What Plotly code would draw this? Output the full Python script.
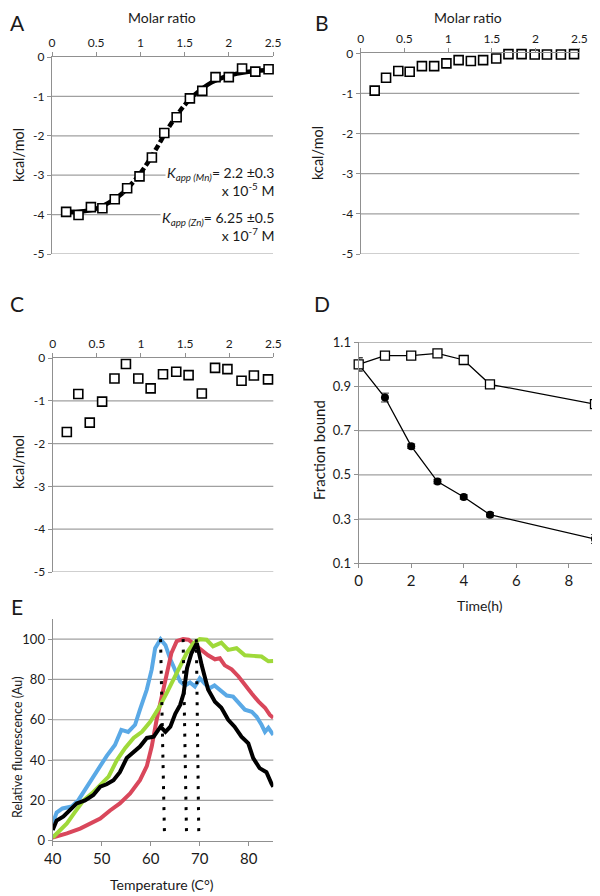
import plotly.graph_objects as go

# ---------------- Panel A ----------------
a_x = [0.16, 0.30, 0.44, 0.57, 0.71, 0.85, 0.99, 1.13, 1.27, 1.41, 1.56, 1.70, 1.85, 2.00, 2.15, 2.30, 2.45]
a_y = [-3.93, -4.01, -3.81, -3.84, -3.61, -3.33, -3.03, -2.55, -1.93, -1.53, -1.05, -0.86, -0.51, -0.51, -0.29, -0.37, -0.31]
a_fit_x = [0.16, 0.3, 0.5, 0.7, 0.8, 0.9, 1.0, 1.1, 1.2, 1.3, 1.4, 1.5, 1.6, 1.7, 1.8, 1.9, 2.0, 2.2, 2.45]
a_fit_y = [-3.92, -3.93, -3.85, -3.62, -3.45, -3.22, -2.95, -2.62, -2.25, -1.86, -1.52, -1.22, -0.98, -0.80, -0.65, -0.55, -0.47, -0.38, -0.33]

# ---------------- Panel B ----------------
b_x = [0.16, 0.29, 0.43, 0.56, 0.70, 0.84, 0.98, 1.12, 1.26, 1.40, 1.55, 1.69, 1.84, 1.99, 2.13, 2.29, 2.44]
b_y = [-0.93, -0.61, -0.44, -0.46, -0.32, -0.32, -0.25, -0.17, -0.19, -0.17, -0.13, -0.02, -0.02, -0.03, -0.03, -0.03, -0.02]

# ---------------- Panel C ----------------
c_x = [0.16, 0.29, 0.42, 0.56, 0.70, 0.83, 0.97, 1.11, 1.25, 1.40, 1.54, 1.69, 1.84, 1.98, 2.14, 2.28, 2.44]
c_y = [-1.73, -0.84, -1.51, -1.02, -0.48, -0.14, -0.48, -0.71, -0.38, -0.32, -0.40, -0.83, -0.23, -0.26, -0.53, -0.41, -0.50]

# shared tick labels
ratio_ticks = [0, 0.5, 1, 1.5, 2, 2.5]
ratio_labels = ["0", "0.5", "1", "1.5", "2", "2.5"]
kcal_ticks = [0, -1, -2, -3, -4, -5]
kcal_labels = ["0", "-1", "-2", "-3", "-4", "-5"]

# ---------------- Panel D ----------------
d_t = [0, 1, 2, 3, 4, 5, 9]
d_open = [1.00, 1.04, 1.04, 1.05, 1.02, 0.91, 0.82]
d_open_err = [0.03, 0.005, 0.005, 0.005, 0.005, 0.005, 0.005]
d_filled = [1.00, 0.85, 0.63, 0.47, 0.40, 0.32, 0.21]
d_filled_err = [0.03, 0.02, 0.01, 0.01, 0.01, 0.01, 0.02]
d_xticks = [0, 2, 4, 6, 8]
d_yticks = [0.1, 0.3, 0.5, 0.7, 0.9, 1.1]
d_ylabels = ["0.1", "0.3", "0.5", "0.7", "0.9", "1.1"]

# ---------------- Panel E ----------------
e_blue_t = [40, 40.8, 42, 43.9, 45.2, 47, 49, 51, 52.7, 54, 55.4, 56.8, 57.8, 59.2, 60.2, 60.9, 62, 63, 64, 65, 66, 67, 68, 69, 70, 71, 72, 73, 74, 75.5, 76.8, 78.2, 79.2, 80.6, 81.6, 82.6, 83.3, 84, 85]
e_blue = [8.6, 14, 16, 17, 20, 27, 34, 42, 47.5, 55, 54, 57.5, 65, 75, 85, 95.5, 100, 97, 90, 85, 79, 77, 78.5, 76.5, 80.6, 78, 75.6, 77, 75, 72, 71.5, 68, 65, 64, 61.5, 57.5, 54, 56, 52.5]
e_red_t = [40, 42.9, 45.6, 47.6, 49.7, 51.7, 53.7, 55.8, 57.8, 59.2, 60.2, 61.2, 62.2, 63.2, 64.2, 65.3, 66.6, 67.7, 69, 70.4, 71.7, 73.1, 74.1, 75.1, 76.5, 77.9, 79.2, 80.6, 82, 83.3, 84.3, 85]
e_red = [1.6, 3.6, 6, 8.6, 11, 15, 18.5, 23.5, 30, 37, 46.7, 60, 71.5, 83, 93, 99, 100, 99.7, 97, 94.7, 92, 90, 90.5, 87, 85, 81.5, 77, 73, 69, 66, 62.4, 61]
e_green_t = [40, 41.5, 42.9, 44.6, 46.3, 48, 49.7, 51.4, 53.1, 54.8, 56.5, 58.2, 59.9, 61.6, 63.2, 64.6, 65.9, 67.3, 68.7, 70, 71.4, 72.7, 74.4, 75.8, 77.5, 79.2, 80.9, 82.6, 84, 85]
e_green = [1.6, 5.3, 8.6, 14.4, 20, 23.5, 27.6, 31.8, 40, 46, 51, 54, 59, 65.7, 73, 80, 87, 93, 98, 100, 99.7, 96.4, 98.3, 94.7, 95.5, 92, 91.7, 91.4, 89, 89.2]
e_black_t = [40, 40.8, 42.2, 43.5, 44.9, 46.6, 48.3, 49.7, 51, 52.4, 53.7, 55.1, 56.5, 57.8, 59.2, 60.6, 62, 63, 64, 65, 66, 66.7, 67.4, 68.3, 69.4, 70.4, 71.7, 73.1, 74.4, 75.8, 77.1, 78.5, 79.9, 80.9, 82.2, 83.6, 84.6, 85]
e_black = [5.3, 10, 12, 15, 18.5, 20, 22.7, 26.8, 28, 30, 34, 41, 44, 46.7, 51, 51.6, 56.6, 54, 56.6, 63, 67.4, 73, 85.6, 93, 98, 87, 75, 69, 66, 60, 56.6, 51.6, 48.3, 41, 36, 34, 28.5, 26.8]
e_drop_top = [62.0, 66.6, 69.3]
e_drop_bottom = [62.8, 67.3, 69.8]
e_drop_y = [100, 3]
e_xticks = [40, 50, 60, 70, 80]
e_yticks = [0, 20, 40, 60, 80, 100]

# page body has an 8px margin; the figure is sized so it ends at the window edges
OFF = 8
W, H = 600 - OFF, 896 - OFF
FONT = "Lato"
GRID = "#a0a0a0"
AXIS = "#909090"
TXT = "#1a1a1a"


def px(x):
    return (x - OFF) / W


def py(y):
    return 1 - (y - OFF) / H


fig = go.Figure()

sq = dict(symbol="square", size=9, color="white", line=dict(color="black", width=1.6))

# Panel A traces
solid1 = [(x, y) for x, y in zip(a_fit_x, a_fit_y) if x <= 0.8]
dashed = [(x, y) for x, y in zip(a_fit_x, a_fit_y) if 0.8 <= x <= 1.6]
solid2 = [(x, y) for x, y in zip(a_fit_x, a_fit_y) if x >= 1.6]
for seg, dash in [(solid1, "solid"), (dashed, "6px,3px"), (solid2, "solid")]:
    fig.add_trace(go.Scatter(x=[p[0] for p in seg], y=[p[1] for p in seg], mode="lines",
                             line=dict(color="black", width=4.5, dash=dash, shape="spline"),
                             xaxis="x", yaxis="y", showlegend=False, hoverinfo="skip"))
fig.add_trace(go.Scatter(x=a_x, y=a_y, mode="markers", marker=sq, xaxis="x", yaxis="y",
                         showlegend=False, cliponaxis=False))

# Panel B
fig.add_trace(go.Scatter(x=b_x, y=b_y, mode="markers", marker=sq, xaxis="x2", yaxis="y2",
                         showlegend=False, cliponaxis=False))

# Panel C
fig.add_trace(go.Scatter(x=c_x, y=c_y, mode="markers", marker=sq, xaxis="x3", yaxis="y3",
                         showlegend=False, cliponaxis=False))

# Panel D
fig.add_trace(go.Scatter(x=d_t, y=d_filled, mode="lines+markers",
                         line=dict(color="black", width=1.3),
                         marker=dict(symbol="circle", size=8, color="black"),
                         error_y=dict(type="data", array=d_filled_err, color="#333", thickness=1, width=4),
                         xaxis="x4", yaxis="y4", showlegend=False, cliponaxis=False))
fig.add_trace(go.Scatter(x=d_t, y=d_open, mode="lines+markers",
                         line=dict(color="black", width=1.3),
                         marker=dict(symbol="square", size=9, color="white", line=dict(color="black", width=1.3)),
                         error_y=dict(type="data", array=d_open_err, color="#333", thickness=1, width=4),
                         xaxis="x4", yaxis="y4", showlegend=False, cliponaxis=False))

# Panel E
for t, v, col in [(e_blue_t, e_blue, "#5aa9e6"), (e_red_t, e_red, "#d9475b"),
                  (e_green_t, e_green, "#9fd93a"), (e_black_t, e_black, "black")]:
    fig.add_trace(go.Scatter(x=t, y=v, mode="lines", line=dict(color=col, width=4),
                             xaxis="x5", yaxis="y5", showlegend=False))
for xt, xb in zip(e_drop_top, e_drop_bottom):
    fig.add_trace(go.Scatter(x=[xt, xb], y=e_drop_y, mode="lines",
                             line=dict(color="black", width=3, dash="3px,7.5px"),
                             xaxis="x5", yaxis="y5", showlegend=False))

tickfont = dict(family=FONT, size=12, color=TXT)
bigtick = dict(family=FONT, size=15, color=TXT)

common_y = dict(showline=True, linecolor=AXIS, linewidth=1.3, ticks="outside", ticklen=4,
                tickcolor=AXIS, showgrid=False, zeroline=False,
                tickfont=tickfont, automargin=False)
common_x = dict(showline=True, linecolor=AXIS, linewidth=1.3, ticks="outside", ticklen=4,
                tickcolor=AXIS, showgrid=False, zeroline=False, tickfont=tickfont, automargin=False)

fig.update_layout(
    template="none",
    width=W, height=H, margin=dict(l=0, r=0, t=0, b=0),
    paper_bgcolor="white", plot_bgcolor="white",
    font=dict(family=FONT, color=TXT),
    xaxis=dict(common_x, domain=[px(52), px(273)], anchor="y", side="top", range=[0, 2.5],
               tickvals=ratio_ticks, ticktext=ratio_labels),
    yaxis=dict(common_y, domain=[py(254), py(57)], anchor="x", range=[-5, 0],
               tickvals=kcal_ticks, ticktext=kcal_labels),
    xaxis2=dict(common_x, domain=[px(360.7), px(579.3)], anchor="y2", side="top", range=[0, 2.5],
                tickvals=ratio_ticks, ticktext=ratio_labels),
    yaxis2=dict(common_y, domain=[py(254), py(53.3)], anchor="x2", range=[-5, 0],
                tickvals=kcal_ticks, ticktext=kcal_labels),
    xaxis3=dict(common_x, domain=[px(52.7), px(273.3)], anchor="y3", side="top", range=[0, 2.5],
                tickvals=ratio_ticks, ticktext=ratio_labels),
    yaxis3=dict(common_y, domain=[py(572), py(358)], anchor="x3", range=[-5, 0],
                tickvals=kcal_ticks, ticktext=kcal_labels),
    xaxis4=dict(common_x, domain=[px(358.7), px(595)], anchor="y4", range=[0, 9],
                tickvals=d_xticks, tickfont=bigtick),
    yaxis4=dict(common_y, domain=[py(563.3), py(342.3)], anchor="x4", range=[0.1, 1.1],
                tickvals=d_yticks, ticktext=d_ylabels, tickfont=dict(tickfont, size=13)),
    xaxis5=dict(common_x, domain=[px(52.7), px(273.3)], anchor="y5", range=[40, 85],
                tickvals=e_xticks, tickfont=bigtick),
    yaxis5=dict(common_y, domain=[py(840.7), py(619)], anchor="x5", range=[0, 110],
                tickvals=e_yticks, tickfont=dict(tickfont, size=13)),
)

# horizontal gridlines, placed on each panel's own y scale
shapes = []
for yref, vals in [("y", kcal_ticks[1:]), ("y2", kcal_ticks[1:]), ("y3", kcal_ticks[1:]),
                   ("y4", d_yticks[1:]), ("y5", e_yticks[1:])]:
    xdom = yref.replace("y", "x") + " domain"
    for v in vals:
        shapes.append(dict(type="line", xref=xdom, x0=0, x1=1, yref=yref, y0=v, y1=v,
                           layer="below", line=dict(color=GRID, width=1.2)))
fig.update_layout(shapes=shapes)

ann = []


def text(x, y, s, size, angle=0, xanchor="center", yanchor="middle", bg=None, pad=1):
    d = dict(x=px(x), y=py(y), xref="paper", yref="paper", text=s, showarrow=False,
             font=dict(family=FONT, size=size, color=TXT), textangle=angle,
             xanchor=xanchor, yanchor=yanchor, align="right", borderpad=pad)
    if bg:
        d["bgcolor"] = bg
    ann.append(d)


# panel letters
text(17, OFF + 0.5, "A", 21, yanchor="top", pad=0)
text(322, OFF + 0.5, "B", 21, yanchor="top", pad=0)
text(17, 304, "C", 21)
text(322, 303, "D", 21)
text(17, 606, "E", 21)

# titles
text(162, 18, "Molar ratio", 14)
text(468, 18, "Molar ratio", 14)
text(OFF + 0.5, 155, "kcal/mol", 14.5, angle=-90, xanchor="left", pad=0)
text(318, 153, "kcal/mol", 14.5, angle=-90)
text(OFF + 0.5, 462, "kcal/mol", 14.5, angle=-90, xanchor="left", pad=0)
text(319, 450, "Fraction bound", 15, angle=-90)
text(480, 605, "Time(h)", 14)
text(OFF + 0.5, 747, "Relative fluorescence (Au)", 12.5, angle=-90, xanchor="left", pad=0)
text(162, 884, "Temperature (C°)", 14)

# K app boxes
text(276, 181, "<i>K<sub>app (Mn)</sub></i>= 2.2 ±0.3<br>x 10<sup>-5</sup> M", 14,
     xanchor="right", bg="white")
text(276, 226, "<i>K<sub>app (Zn)</sub></i>= 6.25 ±0.5<br>x 10<sup>-7</sup> M", 14,
     xanchor="right", bg="white")

fig.update_layout(annotations=ann)
fig.write_html("out.html")
